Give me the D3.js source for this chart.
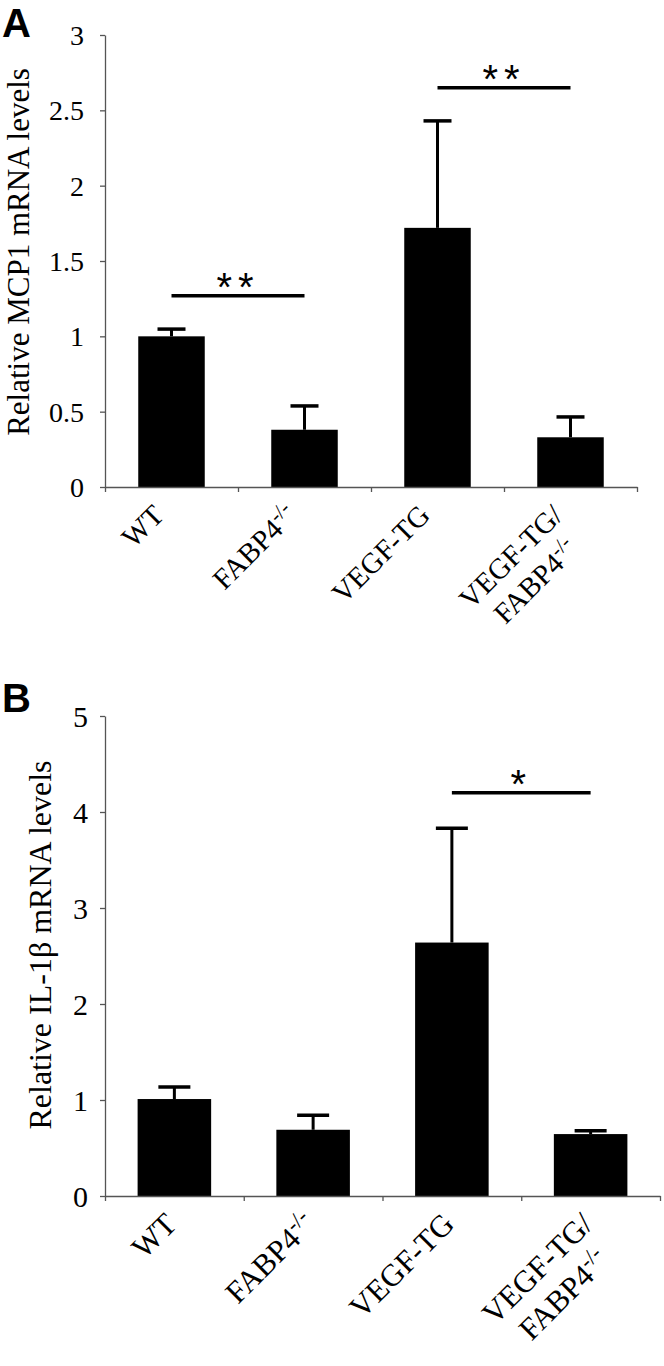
<!DOCTYPE html>
<html>
<head>
<meta charset="utf-8">
<script src="https://cdn.jsdelivr.net/npm/d3@7"></script>
<style>
  html, body { margin: 0; padding: 0; background: #fff; }
  svg { display: block; }
</style>
</head>
<body>
<script>
// ---------- data ----------
const categories = ["WT", "FABP4-/-", "VEGF-TG", "VEGF-TG/\nFABP4-/-"];

const mcp1Means = [1.0, 0.38, 1.72, 0.33];
const mcp1Errors = [0.048, 0.158, 0.71, 0.135];
const mcp1Ticks = [0, 0.5, 1, 1.5, 2, 2.5, 3];
const mcp1Sig = [
  { from: 0, to: 1, level: 1.27, mark: "**" },
  { from: 2, to: 3, level: 2.65, mark: "**" }
];

const il1bMeans = [1.01, 0.69, 2.64, 0.645];
const il1bErrors = [0.125, 0.15, 1.19, 0.035];
const il1bTicks = [0, 1, 2, 3, 4, 5];
const il1bSig = [
  { from: 2, to: 3, level: 4.2, mark: "*" }
];

// ---------- drawing ----------
const svg = d3.select("body").append("svg")
  .attr("width", 664).attr("height", 1366);

const AXIS_COLOR = "#555";
const SERIF = "'Liberation Serif', 'Times New Roman', serif";
const SANS = "'Liberation Sans', Arial, sans-serif";

function drawPanel(opt) {
  const g = svg.append("g");
  const y = d3.scaleLinear().domain(opt.yDomain).range([opt.bottom, opt.top]);
  const x = d3.scaleBand().domain(opt.cats).range([opt.left, opt.right])
    .paddingInner(opt.pad).paddingOuter(opt.pad / 2);
  const xEdge = d3.scaleLinear().domain([0, opt.cats.length]).range([opt.left, opt.right]);

  // panel letter
  g.append("text").attr("x", 2).attr("y", opt.letterY)
    .attr("font-family", SANS).attr("font-weight", "bold")
    .attr("font-size", 40).text(opt.letter);

  // y axis
  const ya = g.append("g").attr("transform", `translate(${opt.left},0)`)
    .call(d3.axisLeft(y).tickValues(opt.ticks).tickSize(5).tickSizeOuter(0)
      .tickPadding(opt.tickPad).tickFormat(d => String(d)));
  ya.select(".domain").attr("stroke", AXIS_COLOR).attr("stroke-width", 1.3);
  ya.selectAll(".tick line").attr("stroke", AXIS_COLOR).attr("stroke-width", 1.3);
  ya.selectAll(".tick text").attr("font-family", SERIF).attr("font-size", opt.tickFont)
    .attr("fill", "#000").attr("dy", "0.34em");

  // y label
  g.append("text")
    .attr("transform", `translate(${opt.yLabelX},${opt.yLabelY}) rotate(-90)`)
    .attr("text-anchor", "middle")
    .attr("font-family", SERIF).attr("font-size", opt.yLabelFont)
    .text(opt.yLabel);

  // bars
  g.selectAll("rect.bar").data(opt.means).join("rect")
    .attr("class", "bar")
    .attr("x", (d, i) => x(opt.cats[i]))
    .attr("width", x.bandwidth())
    .attr("y", d => y(d))
    .attr("height", d => y(0) - y(d))
    .attr("fill", "#000");

  // error bars (upper only)
  opt.means.forEach((m, i) => {
    const cx = x(opt.cats[i]) + x.bandwidth() / 2;
    g.append("line").attr("x1", cx).attr("x2", cx)
      .attr("y1", y(m)).attr("y2", y(m + opt.errors[i]))
      .attr("stroke", "#000").attr("stroke-width", 3);
    g.append("line").attr("x1", cx - opt.capW / 2).attr("x2", cx + opt.capW / 2)
      .attr("y1", y(m + opt.errors[i])).attr("y2", y(m + opt.errors[i]))
      .attr("stroke", "#000").attr("stroke-width", 3.5);
  });

  // x axis (ticks at category boundaries)
  const xa = g.append("g").attr("transform", `translate(0,${y(0)})`)
    .call(d3.axisBottom(xEdge).tickValues(d3.range(opt.cats.length + 1))
      .tickSize(5).tickSizeOuter(0).tickFormat(""));
  xa.select(".domain").attr("stroke", AXIS_COLOR).attr("stroke-width", 1.3);
  xa.selectAll(".tick line").attr("stroke", AXIS_COLOR).attr("stroke-width", 1.3);

  // x labels, rotated -45
  opt.cats.forEach((c, i) => {
    const cx = x(c) + x.bandwidth() / 2 + opt.labelDx;
    const lg = g.append("g")
      .attr("transform", `translate(${cx},${y(0) + opt.labelDy}) rotate(-45)`);
    const lines = c.split("\n");
    const texts = lines.map((ln, k) => {
      const t = lg.append("text").attr("text-anchor", "end")
        .attr("x", 0).attr("y", k * opt.labelFont * 1.2)
        .attr("font-family", SERIF).attr("font-size", opt.labelFont);
      const m = ln.match(/^(.*?)(-\/-)$/);
      if (m) {
        t.append("tspan").text(m[1]);
        t.append("tspan").attr("font-size", opt.labelFont * 0.72)
          .attr("dy", -opt.labelFont * 0.36).text(m[2]);
      } else {
        t.text(ln);
      }
      return t;
    });
    if (texts.length > 1) {
      const w0 = texts[0].node().getComputedTextLength();
      texts.forEach((t, k) => {
        const w = t.node().getComputedTextLength();
        t.attr("x", -(w0 - w) / 2);
      });
    }
  });

  // significance
  opt.sig.forEach(s => {
    const x1 = x(opt.cats[s.from]) + x.bandwidth() / 2;
    const x2 = x(opt.cats[s.to]) + x.bandwidth() / 2;
    g.append("line").attr("x1", x1).attr("x2", x2)
      .attr("y1", y(s.level)).attr("y2", y(s.level))
      .attr("stroke", "#000").attr("stroke-width", 3.5);
    g.append("text").attr("x", (x1 + x2) / 2).attr("y", y(s.level) + opt.starDy)
      .attr("text-anchor", "middle").attr("font-family", SANS)
      .attr("font-size", opt.starFont).attr("letter-spacing", 6)
      .text(s.mark);
  });
}

drawPanel({
  letter: "A", letterY: 37,
  cats: categories, means: mcp1Means, errors: mcp1Errors, ticks: mcp1Ticks, sig: mcp1Sig,
  yDomain: [0, 3], top: 35, bottom: 487, left: 105, right: 637, pad: 0.5,
  tickPad: 16, tickFont: 28,
  yLabel: "Relative MCP1 mRNA levels", yLabelX: 29, yLabelY: 252, yLabelFont: 31,
  capW: 28, labelDx: -6, labelDy: 30, labelFont: 29,
  starFont: 40, starDy: 5
});

drawPanel({
  letter: "B", letterY: 712,
  cats: categories, means: il1bMeans, errors: il1bErrors, ticks: il1bTicks, sig: il1bSig,
  yDomain: [0, 5], top: 716, bottom: 1196, left: 105, right: 660, pad: 0.47,
  tickPad: 12, tickFont: 30,
  yLabel: "Relative IL-1β mRNA levels", yLabelX: 51, yLabelY: 945, yLabelFont: 32,
  capW: 32, labelDx: 4, labelDy: 30, labelFont: 31,
  starFont: 40, starDy: 5
});
</script>
</body>
</html>
